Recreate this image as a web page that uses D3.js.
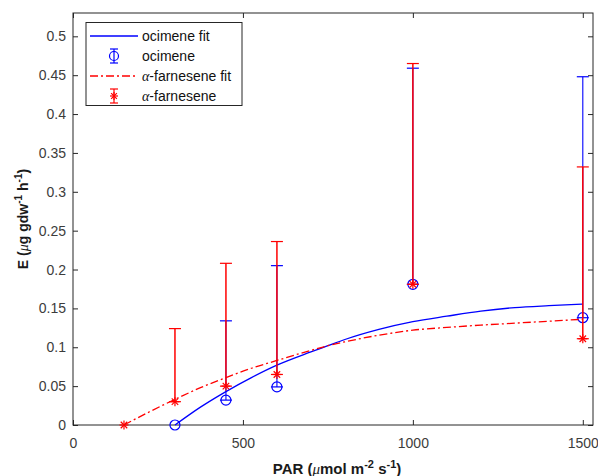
<!DOCTYPE html>
<html><head><meta charset="utf-8">
<script src="https://cdn.jsdelivr.net/npm/d3@7"></script>
<style>body{margin:0;background:#fff}svg{display:block}</style>
</head><body>
<script>
// ---- data ----
const xTicks = [0, 500, 1000, 1500];
const yTicks = [0, 0.05, 0.1, 0.15, 0.2, 0.25, 0.3, 0.35, 0.4, 0.45, 0.5];

// ocimene measurements (lower error = 0)
const ociPAR   = [300, 450, 600, 1000, 1500];
const ociE     = [0, 0.032, 0.049, 0.181, 0.138];
const ociUpper = [0, 0.134, 0.205, 0.459, 0.448];

// alpha-farnesene measurements
const farPAR   = [150, 300, 450, 600, 1000, 1500];
const farE     = [0, 0.030, 0.050, 0.065, 0.181, 0.111];
const farUpper = [0, 0.124, 0.208, 0.236, 0.465, 0.332];

// fitted curves
const ociFitPAR = [300, 375, 450, 525, 600, 700, 750, 800, 900, 1000, 1100, 1200, 1300, 1400, 1500];
const ociFitE   = [0, 0.023, 0.043, 0.061, 0.077, 0.094, 0.102, 0.110, 0.123, 0.133, 0.140, 0.1465, 0.151, 0.1535, 0.1555];
const farFitPAR = [150, 225, 300, 375, 450, 525, 600, 700, 750, 800, 900, 1000, 1100, 1200, 1300, 1400, 1500];
const farFitE   = [0, 0.017, 0.033, 0.048, 0.061, 0.073, 0.083, 0.096, 0.102, 0.107, 0.1155, 0.122, 0.1255, 0.1285, 0.131, 0.1335, 0.136];

// ---- layout ----
const W = 598, H = 476;
const L = 73, R = 593, T = 13, B = 425;
const svg = d3.select("body").append("svg").attr("width", W).attr("height", H)
  .style("font-family", "Arial, 'Liberation Sans', Helvetica, sans-serif");

const x = d3.scaleLinear().domain([0, 1530]).range([L, R]);
const y = d3.scaleLinear().domain([0, 0.53]).range([B, T]);

const axisCol = "#262626", textCol = "#3c3c3c";
const fmt = v => String(+v.toFixed(2));

// axes with inward ticks
const gx = svg.append("g").attr("transform", `translate(0,${B})`)
  .call(d3.axisBottom(x).tickValues(xTicks).tickSizeInner(-5).tickSizeOuter(0).tickPadding(13).tickFormat(d3.format("d")));
const gxt = svg.append("g").attr("transform", `translate(0,${T})`)
  .call(d3.axisTop(x).tickValues(xTicks).tickSizeInner(-5).tickSizeOuter(0).tickFormat(""));
const gy = svg.append("g").attr("transform", `translate(${L},0)`)
  .call(d3.axisLeft(y).tickValues(yTicks).tickSizeInner(-5).tickSizeOuter(0).tickPadding(7).tickFormat(fmt));
const gyr = svg.append("g").attr("transform", `translate(${R},0)`)
  .call(d3.axisRight(y).tickValues(yTicks).tickSizeInner(-5).tickSizeOuter(0).tickFormat(""));
[gx, gxt, gy, gyr].forEach(g => {
  g.select(".domain").remove();
  g.selectAll(".tick line").attr("stroke", axisCol);
  g.selectAll(".tick text").attr("fill", textCol).style("font-size", "14px");
});
svg.append("rect").attr("x", L).attr("y", T).attr("width", R - L).attr("height", B - T)
  .attr("fill", "none").attr("stroke", axisCol).attr("stroke-width", 1);

// axis labels
const xl = svg.append("text").attr("x", 337).attr("y", 474).attr("text-anchor", "middle")
  .attr("fill", "#1a1a1a").style("font-size", "15px").style("font-weight", "bold");
xl.append("tspan").text("PAR (");
xl.append("tspan").text("μ").style("font-family", "'Liberation Serif', 'DejaVu Serif', serif").style("font-style", "italic").style("font-weight", "normal");
xl.append("tspan").text("mol m");
xl.append("tspan").text("-2").attr("dy", -6).style("font-size", "11px");
xl.append("tspan").text(" s").attr("dy", 6);
xl.append("tspan").text("-1").attr("dy", -6).style("font-size", "11px");
xl.append("tspan").text(")").attr("dy", 6);

const yl = svg.append("text").attr("transform", `translate(28,${(T + B) / 2}) rotate(-90)`)
  .attr("text-anchor", "middle").attr("fill", "#1a1a1a").style("font-size", "14px").style("font-weight", "bold");
yl.append("tspan").text("E (");
yl.append("tspan").text("μ").style("font-family", "'Liberation Serif', 'DejaVu Serif', serif").style("font-style", "italic").style("font-weight", "normal");
yl.append("tspan").text("g gdw");
yl.append("tspan").text("-1").attr("dy", -6).style("font-size", "10px");
yl.append("tspan").text(" h").attr("dy", 6);
yl.append("tspan").text("-1").attr("dy", -6).style("font-size", "10px");
yl.append("tspan").text(")").attr("dy", 6);

const plot = svg.append("g");
const line = d3.line().x(d => x(d[0])).y(d => y(d[1])).curve(d3.curveMonotoneX);
const BLUE = "#0000ff", RED = "#ff0000";
const capW = 6;

function drawErr(g, px, py, pu, col, vw) {
  px.forEach((p, i) => {
    if (pu[i] > py[i]) {
      const xc = x(p);
      g.append("line").attr("x1", xc).attr("x2", xc).attr("y1", y(py[i])).attr("y2", y(pu[i]))
        .attr("stroke", col).attr("stroke-width", vw);
      g.append("line").attr("x1", xc - capW).attr("x2", xc + capW).attr("y1", y(pu[i])).attr("y2", y(pu[i]))
        .attr("stroke", col).attr("stroke-width", 1.2);
      g.append("line").attr("x1", xc - capW).attr("x2", xc + capW).attr("y1", y(py[i])).attr("y2", y(py[i]))
        .attr("stroke", col).attr("stroke-width", 1.2);
    }
  });
}
function star(g, cx, cy, col, s) {
  const r = s;
  [[0, -r, 0, r], [-r, 0, r, 0], [-r * 0.72, -r * 0.72, r * 0.72, r * 0.72], [-r * 0.72, r * 0.72, r * 0.72, -r * 0.72]]
    .forEach(a => g.append("line").attr("x1", cx + a[0]).attr("y1", cy + a[1]).attr("x2", cx + a[2]).attr("y2", cy + a[3])
      .attr("stroke", col).attr("stroke-width", 1.2));
}

// ocimene fit
plot.append("path").datum(ociFitPAR.map((p, i) => [p, ociFitE[i]])).attr("d", line)
  .attr("fill", "none").attr("stroke", BLUE).attr("stroke-width", 1.3);
// ocimene error bars + markers
const gO = plot.append("g");
drawErr(gO, ociPAR, ociE, ociUpper, BLUE, 1.1);
ociPAR.forEach((p, i) => gO.append("circle").attr("cx", x(p)).attr("cy", y(ociE[i])).attr("r", 5)
  .attr("fill", "none").attr("stroke", BLUE).attr("stroke-width", 1.2));
// farnesene fit
plot.append("path").datum(farFitPAR.map((p, i) => [p, farFitE[i]])).attr("d", line)
  .attr("fill", "none").attr("stroke", RED).attr("stroke-width", 1.3).attr("stroke-dasharray", "8,3,2,3");
// farnesene error bars + markers
const gF = plot.append("g");
drawErr(gF, farPAR, farE, farUpper, RED, 1.5);
farPAR.forEach((p, i) => star(gF, x(p), y(farE[i]), RED, 4.5));

// legend
const lg = svg.append("g");
lg.append("rect").attr("x", 86).attr("y", 22.5).attr("width", 156).attr("height", 83)
  .attr("fill", "#fff").attr("stroke", axisCol).attr("stroke-width", 1);
const rows = [36, 56, 76, 96];
lg.append("line").attr("x1", 90).attr("x2", 138).attr("y1", rows[0]).attr("y2", rows[0]).attr("stroke", BLUE).attr("stroke-width", 1.3);
lg.append("line").attr("x1", 90).attr("x2", 138).attr("y1", rows[2]).attr("y2", rows[2]).attr("stroke", RED).attr("stroke-width", 1.3).attr("stroke-dasharray", "8,3,2,3");
// errorbar icons
[[1, BLUE], [3, RED]].forEach(([r, col]) => {
  const cy = rows[r], cx = 114;
  lg.append("line").attr("x1", cx).attr("x2", cx).attr("y1", cy - 7).attr("y2", cy + 7).attr("stroke", col).attr("stroke-width", 1.2);
  lg.append("line").attr("x1", cx - 4).attr("x2", cx + 4).attr("y1", cy - 7).attr("y2", cy - 7).attr("stroke", col).attr("stroke-width", 1.2);
  lg.append("line").attr("x1", cx - 4).attr("x2", cx + 4).attr("y1", cy + 7).attr("y2", cy + 7).attr("stroke", col).attr("stroke-width", 1.2);
  if (r === 1) lg.append("circle").attr("cx", cx).attr("cy", cy).attr("r", 4.5).attr("fill", "none").attr("stroke", col).attr("stroke-width", 1.2);
  else star(lg, cx, cy, col, 4);
});
const legText = (yy, parts) => {
  const t = lg.append("text").attr("x", 142).attr("y", yy + 5).attr("fill", "#111").style("font-size", "14px");
  parts.forEach(([s, greek]) => {
    const ts = t.append("tspan").text(s);
    if (greek) ts.style("font-family", "'Liberation Serif', 'DejaVu Serif', serif").style("font-style", "italic");
  });
};
legText(rows[0], [["ocimene fit", false]]);
legText(rows[1], [["ocimene", false]]);
legText(rows[2], [["α", true], ["-farnesene fit", false]]);
legText(rows[3], [["α", true], ["-farnesene", false]]);
</script>
</body></html>
